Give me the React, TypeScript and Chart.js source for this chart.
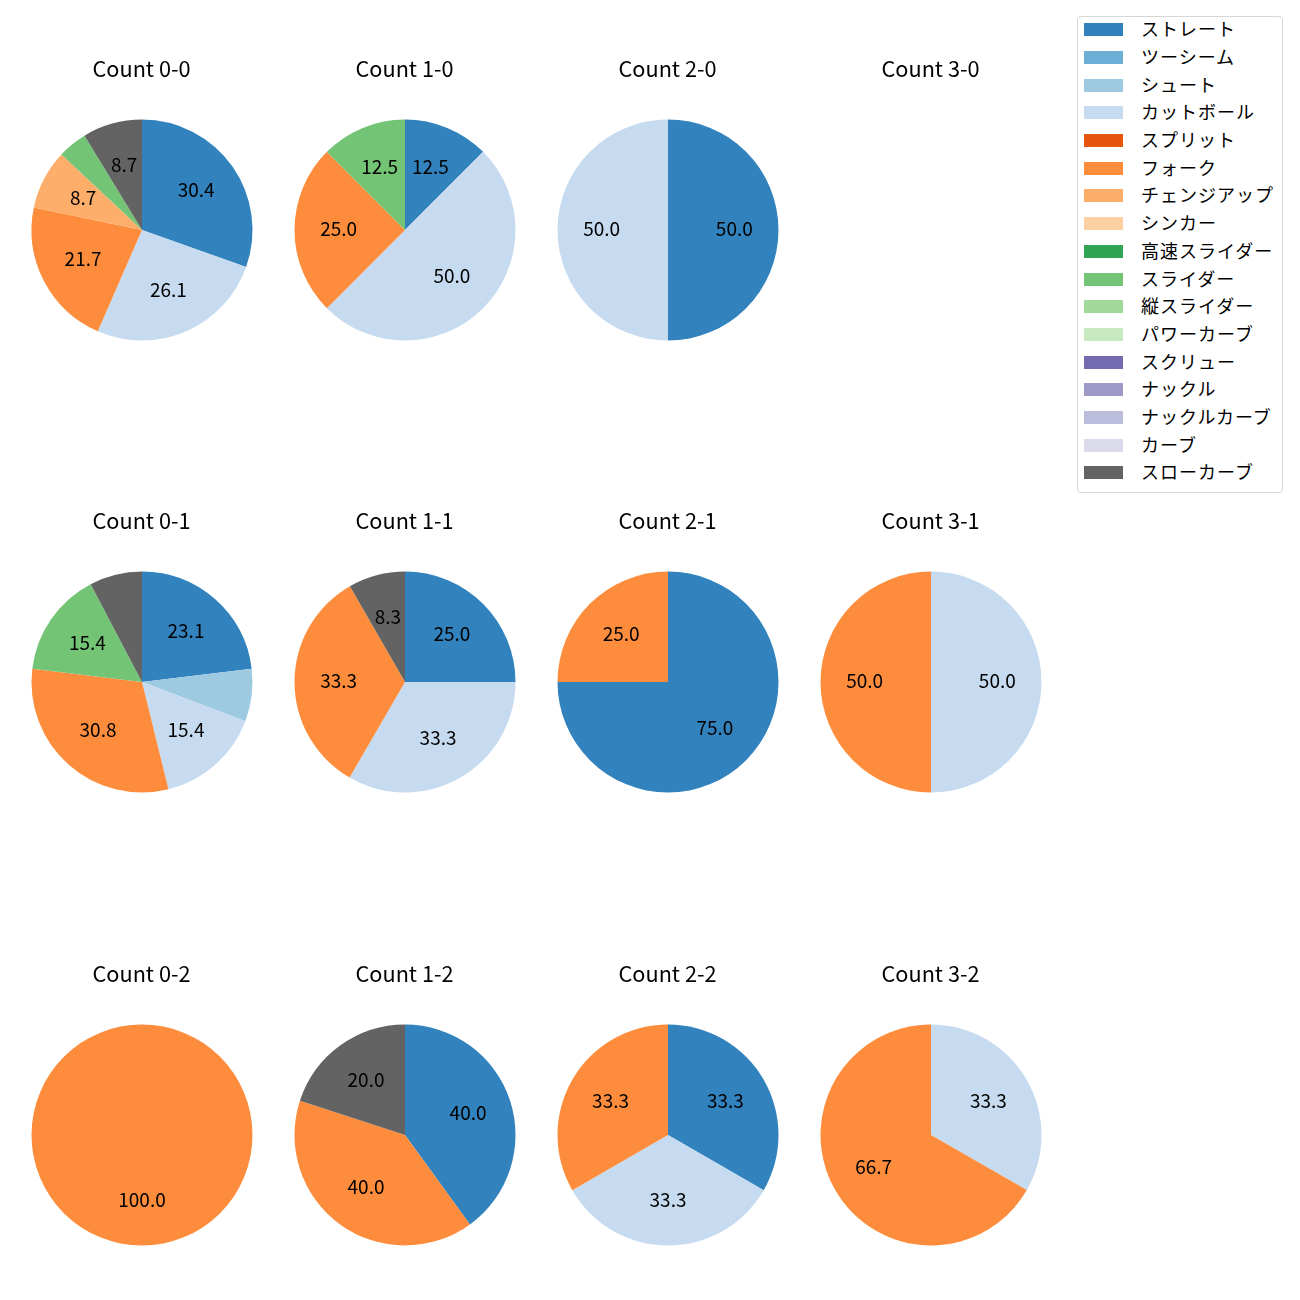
import React, { useEffect, useRef } from "react";
import { Chart, registerables } from "chart.js";

Chart.register(...registerables);

const pitchTypes = [
  "ストレート", "ツーシーム", "シュート", "カットボール", "スプリット", "フォーク",
  "チェンジアップ", "シンカー", "高速スライダー", "スライダー", "縦スライダー",
  "パワーカーブ", "スクリュー", "ナックル", "ナックルカーブ", "カーブ", "スローカーブ",
];
const pitchColors = [
  "#3182bd", "#6baed6", "#9ecae1", "#c6dbef", "#e6550d", "#fd8d3c",
  "#fdae6b", "#fdd0a2", "#31a354", "#74c476", "#a1d99b",
  "#c7e9c0", "#756bb1", "#9e9ac8", "#bcbddc", "#dadaeb", "#636363",
];

// percentages per pitch type (order of pitchTypes)
const count00 = [30.4, 0, 0, 26.1, 0, 21.7, 8.7, 0, 0, 4.3, 0, 0, 0, 0, 0, 0, 8.7];
const count10 = [12.5, 0, 0, 50.0, 0, 25.0, 0, 0, 0, 12.5, 0, 0, 0, 0, 0, 0, 0];
const count20 = [50.0, 0, 0, 50.0, 0, 0, 0, 0, 0, 0, 0, 0, 0, 0, 0, 0, 0];
const count30 = [0, 0, 0, 0, 0, 0, 0, 0, 0, 0, 0, 0, 0, 0, 0, 0, 0];
const count01 = [23.1, 0, 7.7, 15.4, 0, 30.8, 0, 0, 0, 15.4, 0, 0, 0, 0, 0, 0, 7.7];
const count11 = [25.0, 0, 0, 33.3, 0, 33.3, 0, 0, 0, 0, 0, 0, 0, 0, 0, 0, 8.3];
const count21 = [75.0, 0, 0, 0, 0, 25.0, 0, 0, 0, 0, 0, 0, 0, 0, 0, 0, 0];
const count31 = [0, 0, 0, 50.0, 0, 50.0, 0, 0, 0, 0, 0, 0, 0, 0, 0, 0, 0];
const count02 = [0, 0, 0, 0, 0, 100.0, 0, 0, 0, 0, 0, 0, 0, 0, 0, 0, 0];
const count12 = [40.0, 0, 0, 0, 0, 40.0, 0, 0, 0, 0, 0, 0, 0, 0, 0, 0, 20.0];
const count22 = [33.3, 0, 0, 33.3, 0, 33.3, 0, 0, 0, 0, 0, 0, 0, 0, 0, 0, 0];
const count32 = [0, 0, 0, 33.3, 0, 66.7, 0, 0, 0, 0, 0, 0, 0, 0, 0, 0, 0];

const countTitles = [
  ["Count 0-0", "Count 1-0", "Count 2-0", "Count 3-0"],
  ["Count 0-1", "Count 1-1", "Count 2-1", "Count 3-1"],
  ["Count 0-2", "Count 1-2", "Count 2-2", "Count 3-2"],
];
const countValues = [
  [count00, count10, count20, count30],
  [count01, count11, count21, count31],
  [count02, count12, count22, count32],
];

const FONT = '"Noto Sans CJK JP", "Noto Sans", sans-serif';
const COL_X = [141.5, 404.5, 667.5, 930.5];
const ROW_Y = [229.5, 682, 1134.5];
const CW = 262;
const CH = 400;
const RADIUS = 110.5;

function PieCell({ title, values, cx, cy }: { title: string; values: number[]; cx: number; cy: number }) {
  const ref = useRef<HTMLCanvasElement>(null);
  useEffect(() => {
    if (!ref.current) return;
    const total = values.reduce((a, b) => a + b, 0);
    const drawPlugin = {
      id: "titleAndLabels",
      afterDraw(chart: any) {
        const ctx = chart.ctx;
        ctx.save();
        ctx.fillStyle = "#000";
        ctx.textAlign = "center";
        ctx.textBaseline = "middle";
        ctx.font = `21.7px ${FONT}`;
        ctx.fillText(title, CW / 2 - 0.5, CH / 2 - 161.5);
        ctx.font = `19px ${FONT}`;
        const meta = chart.getDatasetMeta(0);
        meta.data.forEach((arc: any, i: number) => {
          const v = values[i];
          if (!total) return;
          const pct = (v / total) * 100;
          if (pct < 8) return;
          const p = arc.getProps(["x", "y", "startAngle", "endAngle", "outerRadius"], true);
          const mid = (p.startAngle + p.endAngle) / 2;
          const r = p.outerRadius * 0.6;
          ctx.fillText(pct.toFixed(1), p.x + Math.cos(mid) * r, p.y + Math.sin(mid) * r - 1.5);
        });
        ctx.restore();
      },
    };
    const chart = new Chart(ref.current, {
      type: "pie",
      data: {
        labels: pitchTypes,
        datasets: [
          {
            data: values,
            backgroundColor: pitchColors,
            borderWidth: 0,
            hoverOffset: 0,
            offset: 0,
          },
        ],
      },
      options: {
        responsive: false,
        animation: false,
        events: [],
        radius: RADIUS,
        layout: { padding: { top: 88, bottom: 88, left: 19, right: 19 } },
        plugins: {
          legend: { display: false },
          tooltip: { enabled: false },
          title: { display: false },
        },
      } as any,
      plugins: [drawPlugin],
    });
    return () => chart.destroy();
  }, [title, values]);
  return (
    <canvas
      ref={ref}
      width={CW}
      height={CH}
      style={{ position: "absolute", left: cx - CW / 2, top: cy - CH / 2, width: CW, height: CH }}
    />
  );
}

function Legend() {
  const left = 1077;
  const top = 16;
  return (
    <div
      style={{
        position: "absolute",
        left,
        top,
        width: 206,
        height: 477,
        boxSizing: "border-box",
        border: "1px solid #d6d6d6",
        borderRadius: 4,
        background: "#fff",
      }}
    >
      {pitchTypes.map((name, i) => {
        const yc = 29.7 + i * 27.7 - top - 1;
        return (
          <React.Fragment key={name}>
            <div
              style={{
                position: "absolute",
                left: 1084 - left - 1,
                top: yc - 6.5,
                width: 39,
                height: 13,
                background: pitchColors[i],
              }}
            />
            <div
              style={{
                position: "absolute",
                left: 1141 - left - 1,
                top: yc - 15.5,
                height: 28,
                lineHeight: "28px",
                fontFamily: FONT,
                fontSize: 18,
                letterSpacing: "1px",
                color: "#000",
                whiteSpace: "nowrap",
              }}
            >
              {name}
            </div>
          </React.Fragment>
        );
      })}
    </div>
  );
}

export default function App() {
  useEffect(() => {
    document.body.style.margin = "0";
    document.body.style.background = "#fff";
  }, []);
  return (
    <div style={{ position: "relative", width: 1300, height: 1300, background: "#fff", overflow: "hidden" }}>
      {countTitles.map((row, r) =>
        row.map((t, c) => (
          <PieCell key={t} title={t} values={countValues[r][c]} cx={COL_X[c]} cy={ROW_Y[r]} />
        ))
      )}
      <Legend />
    </div>
  );
}
